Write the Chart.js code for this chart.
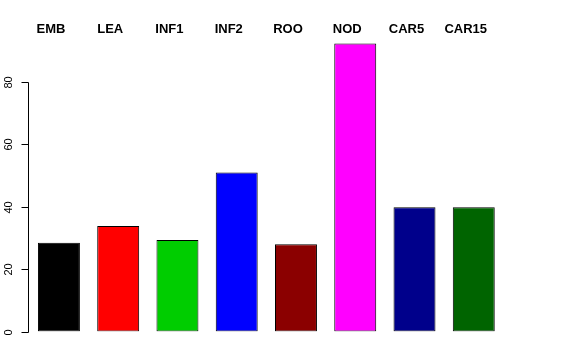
<!DOCTYPE html>
<html>
<head>
<meta charset="utf-8">
<script src="https://cdn.jsdelivr.net/npm/chart.js@4"></script>
<style>
  html, body { margin: 0; padding: 0; background: #fff; }
  #wrap { width: 576px; height: 360px; }
</style>
</head>
<body>
<div id="wrap"><canvas id="c" width="576" height="360"></canvas></div>
<script>
const categories = ["EMB", "LEA", "INF1", "INF2", "ROO", "NOD", "CAR5", "CAR15"];
const values = [28.4, 33.8, 29.3, 50.9, 27.9, 92.2, 39.8, 39.8];
const barColors = ["#000000", "#FF0000", "#00CD00", "#0000FF", "#8B0000", "#FF00FF", "#00008B", "#006400"];
const yTicks = [0, 20, 40, 60, 80];

const rAxisPlugin = {
  id: 'rAxis',
  afterDraw(chart) {
    const ctx = chart.ctx;
    const y = chart.scales.y;
    const x = chart.scales.x;
    const ax = Math.round(chart.chartArea.left) - 0.5;
    ctx.save();
    ctx.strokeStyle = '#000';
    ctx.lineWidth = 1;
    // axis line
    ctx.beginPath();
    ctx.moveTo(ax, Math.round(y.getPixelForValue(yTicks[0])) + 0.5);
    ctx.lineTo(ax, Math.round(y.getPixelForValue(yTicks[yTicks.length - 1])) + 0.5);
    ctx.stroke();
    // ticks and labels
    ctx.fillStyle = '#000';
    ctx.font = '11px "Liberation Sans", Arial, sans-serif';
    ctx.textAlign = 'center';
    ctx.textBaseline = 'alphabetic';
    yTicks.forEach(v => {
      const py = Math.round(y.getPixelForValue(v)) + 0.5;
      ctx.beginPath();
      ctx.moveTo(ax - 7, py);
      ctx.lineTo(ax, py);
      ctx.stroke();
      ctx.save();
      ctx.translate(11.5, py);
      ctx.rotate(-Math.PI / 2);
      ctx.fillText(String(v), 0, 0);
      ctx.restore();
    });
    // category labels at top
    ctx.font = 'bold 13px "Liberation Sans", Arial, sans-serif';
    ctx.textAlign = 'center';
    ctx.textBaseline = 'middle';
    categories.forEach((c, i) => {
      ctx.fillText(c, x.getPixelForValue(i) - 8, 29.5);
    });
    ctx.restore();
  }
};

new Chart(document.getElementById('c'), {
  type: 'bar',
  data: {
    labels: categories,
    datasets: [{
      data: values,
      backgroundColor: barColors,
      borderColor: '#000',
      borderWidth: 1,
      borderSkipped: false,
      categoryPercentage: 1.0,
      barPercentage: 0.708
    }]
  },
  options: {
    responsive: false,
    animation: false,
    devicePixelRatio: 1,
    layout: { padding: { left: 29.3, right: 72.6, top: 31.7, bottom: 28.5 } },
    plugins: { legend: { display: false }, tooltip: { enabled: false } },
    scales: {
      x: { display: false, offset: true },
      y: { display: false, min: 0, max: 96 }
    }
  },
  plugins: [rAxisPlugin]
});
</script>
</body>
</html>
